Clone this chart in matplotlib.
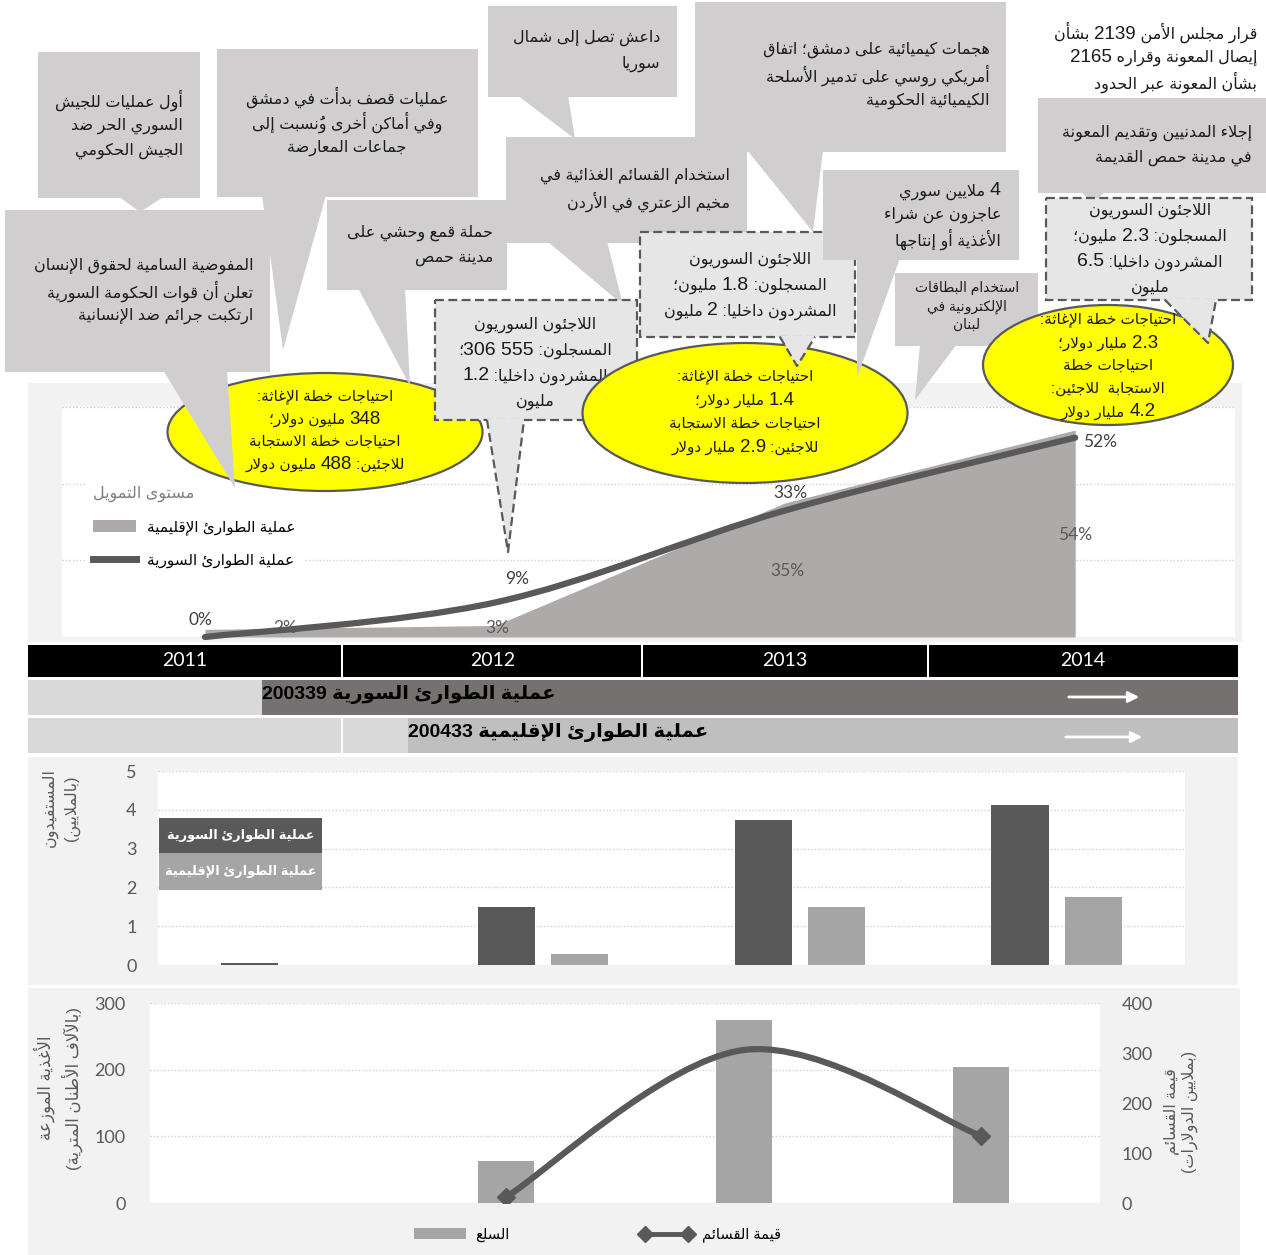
import re
import numpy as np
import matplotlib
matplotlib.use('Agg')
import matplotlib.pyplot as plt
from matplotlib.patches import Rectangle, Polygon, Ellipse, PathPatch, Patch
from matplotlib.path import Path
from matplotlib.lines import Line2D
from matplotlib.offsetbox import TextArea, HPacker, AnnotationBbox

W, H = 1266, 1255
AR_FONT = ['Liberation Sans', 'DejaVu Sans']
NUM_FONT = ['Lato', 'DejaVu Sans']
plt.rcParams['font.family'] = AR_FONT

# ---------------- data ----------------
years = ['2011', '2012', '2013', '2014']
funding_syria_pct = [0, 9, 33, 52]          # line (Syria EMOP)
funding_regional_pct = [2, 3, 35, 54]       # area (regional EMOP)
beneficiaries_syria_m = [0.05, 1.5, 3.73, 4.12]
beneficiaries_regional_m = [0.0, 0.28, 1.5, 1.74]
food_distributed_kmt = [0.5, 63, 275, 204]
voucher_value_musd = [np.nan, 12, 306, 134]

op_syria = 'عملية الطوارئ السورية 200339'
op_regional = 'عملية الطوارئ الإقليمية 200433'
lbl_syria = 'عملية الطوارئ السورية'
lbl_regional = 'عملية الطوارئ الإقليمية'

# ---------------- Arabic shaping / bidi ----------------
_letters = ('\u0621\u0622\u0623\u0624\u0625\u0626\u0627\u0628\u0629\u062A\u062B\u062C\u062D'
            '\u062E\u062F\u0630\u0631\u0632\u0633\u0634\u0635\u0636\u0637\u0638\u0639\u063A'
            '\u0641\u0642\u0643\u0644\u0645\u0646\u0647\u0648\u0649\u064A')
_nforms = [1, 2, 2, 2, 2, 4, 2, 4, 2, 4, 4, 4, 4, 4, 2, 2, 2, 2, 4, 4, 4, 4, 4, 4, 4, 4,
           4, 4, 4, 4, 4, 4, 4, 2, 2, 4]
FORMS = {}
_cp = 0xFE80
for _c, _n in zip(_letters, _nforms):
    FORMS[_c] = tuple(chr(_cp + k) for k in range(_n))
    _cp += _n
LAMALEF = {'\u0622': ('\uFEF5', '\uFEF6'), '\u0623': ('\uFEF7', '\uFEF8'),
           '\u0625': ('\uFEF9', '\uFEFA'), '\u0627': ('\uFEFB', '\uFEFC')}
MIRROR = {'(': ')', ')': '('}
NUM_RE = r'\d+(?:\.\d+)?(?: \d+(?:\.\d+)?)*'


def _is_mark(c):
    return '\u064B' <= c <= '\u0652'


def shape(s):
    ch = list(s)
    n = len(ch)
    out = []

    def prev_l(i):
        j = i - 1
        while j >= 0 and _is_mark(ch[j]):
            j -= 1
        return j

    def next_l(i):
        j = i + 1
        while j < n and _is_mark(ch[j]):
            j += 1
        return j

    i = 0
    while i < n:
        c = ch[i]
        if c in FORMS:
            p = prev_l(i)
            pj = p >= 0 and ch[p] in FORMS and len(FORMS[ch[p]]) == 4
            nx = next_l(i)
            if c == '\u0644' and nx < n and ch[nx] in LAMALEF:
                iso, fin = LAMALEF[ch[nx]]
                out.append(fin if pj else iso)
                i = nx + 1
                continue
            f = FORMS[c]
            nj = len(f) == 4 and nx < n and ch[nx] in FORMS and len(FORMS[ch[nx]]) >= 2
            if pj and nj:
                g = f[3]
            elif pj:
                g = f[1] if len(f) > 1 else f[0]
            elif nj:
                g = f[2]
            else:
                g = f[0]
            out.append(g)
        else:
            out.append(c)
        i += 1
    return ''.join(out)


def vis(line):
    sh = shape(line)
    toks = re.findall(NUM_RE + r'|.[\u064B-\u0652]*', sh)
    res = []
    for t in reversed(toks):
        res.append(t if t[0].isdigit() else MIRROR.get(t, t))
    return ''.join(res)


# ---------------- figure ----------------
fig = plt.figure(figsize=(W / 100, H / 100), dpi=100)
fig.patch.set_facecolor('white')


def overlay(z):
    a = fig.add_axes([0, 0, 1, 1], zorder=z)
    a.set_xlim(0, W)
    a.set_ylim(H, 0)
    a.axis('off')
    return a


def axbox(x0, y0, x1, y1, z=1):
    return fig.add_axes([x0 / W, 1 - y1 / H, (x1 - x0) / W, (y1 - y0) / H], zorder=z)


def rect(ax, x0, y0, x1, y1, z=1, **kw):
    ax.add_patch(Rectangle((x0, y0), x1 - x0, y1 - y0, zorder=z, **kw))


def smooth_path(xs, ys):
    P = np.column_stack([xs, ys]).astype(float)
    n = len(P)
    verts = [P[0]]
    codes = [Path.MOVETO]
    for i in range(n - 1):
        p0 = P[i - 1] if i > 0 else P[i]
        p1, p2 = P[i], P[i + 1]
        p3 = P[i + 2] if i + 2 < n else P[i + 1]
        verts += [p1 + (p2 - p0) / 6.0, p2 - (p3 - p1) / 6.0, p2]
        codes += [Path.CURVE4] * 3
    return Path(verts, codes)


bg = overlay(0)
fg = overlay(10)

GRID = dict(color='#d0d0d0', lw=1.0, ls=(0, (1, 1.5)))
TICKC = '#595959'

# ---------------- top funding chart ----------------
rect(bg, 28, 383, 1242, 642, fc='#f2f2f2', ec='none')
ax1 = axbox(62, 407, 1235, 637)
x = np.arange(len(years))
ax1.fill_between(x, funding_regional_pct, 0, color='#aeaaaa', lw=0, zorder=2)
ax1.add_patch(PathPatch(smooth_path(x, funding_syria_pct), fill=False, ec='#595959',
                        lw=4.5, capstyle='round', zorder=3, clip_on=False))
ax1.set_xlim(-0.493, 3.551)
ax1.set_ylim(0, 60)
ax1.set_yticks([0, 20, 40, 60])
ax1.yaxis.grid(True, **GRID)
ax1.set_axisbelow(True)
ax1.tick_params(left=False, bottom=False, labelleft=False, labelbottom=False)
for s in ax1.spines.values():
    s.set_visible(False)

line_off = [(-5, 17), (22, 23), (5, 17), (25, -4)]
area_off = [(80, 5), (2, 3), (2, -1), (0, -2)]
for i in range(len(years)):
    v = funding_syria_pct[i]
    ax1.annotate(f'{v}%', (x[i], v), xytext=(line_off[i][0] * 0.72, line_off[i][1] * 0.72),
                 textcoords='offset points', ha='center', va='center', fontsize=12.5,
                 color='#404040', family=NUM_FONT, zorder=5, annotation_clip=False)
    a = funding_regional_pct[i]
    ax1.annotate(f'{a}%', (x[i], a / 2), xytext=(area_off[i][0] * 0.72, area_off[i][1] * 0.72),
                 textcoords='offset points', ha='center', va='center', fontsize=12.5,
                 color='#595959', family=NUM_FONT, zorder=5, annotation_clip=False)

leg1 = ax1.legend([Patch(fc='#aeaaaa', ec='none'), Line2D([], [], color='#595959', lw=5)],
                  [vis(lbl_regional), vis(lbl_syria)], title=vis('مستوى التمويل'),
                  loc='upper left', bbox_to_anchor=(78 / W, 1 - 470 / H),
                  bbox_transform=fig.transFigure, frameon=True, fancybox=False,
                  edgecolor='white', facecolor='white', framealpha=1, fontsize=11,
                  title_fontsize=11.5, alignment='left', handlelength=2.8, handleheight=0.8,
                  labelspacing=1.2, borderpad=0.5, handletextpad=0.7)
leg1.get_title().set_color('#7f7f7f')

# ---------------- year / operation bars ----------------
rect(bg, 28, 645, 1238, 677, fc='black', ec='none')
for xs in (342, 642, 928):
    rect(bg, xs - 1, 645, xs + 1, 677, fc='white', ec='none', z=2)
year_x = [185, 493, 785, 1083]
for xx, yy in zip(year_x, years):
    bg.text(xx, 661, yy, ha='center', va='center', color='white', fontsize=14, family=NUM_FONT, zorder=3)

rect(bg, 28, 680, 262, 715, fc='#d9d9d9', ec='none')
rect(bg, 262, 680, 1238, 715, fc='#767171', ec='none')
bg.text(262, 694, vis(op_syria), ha='left', va='center', fontsize=14, fontweight='bold', color='black', zorder=3)
bg.annotate('', xy=(1142, 697), xytext=(1066, 697),
            arrowprops=dict(arrowstyle='-|>', color='white', lw=2, mutation_scale=16))

rect(bg, 28, 718, 408, 753, fc='#d9d9d9', ec='none')
rect(bg, 341, 718, 343, 753, fc='white', ec='none', z=2)
rect(bg, 408, 718, 1238, 753, fc='#bfbfbf', ec='none')
bg.text(408, 732, vis(op_regional), ha='left', va='center', fontsize=14, fontweight='bold', color='black', zorder=3)
bg.annotate('', xy=(1145, 737), xytext=(1063, 737),
            arrowprops=dict(arrowstyle='-|>', color='white', lw=2, mutation_scale=16))

# ---------------- beneficiaries chart ----------------
rect(bg, 28, 757, 1238, 985, fc='#f2f2f2', ec='none')
ax2 = axbox(158, 771, 1185, 965)
bw = 0.223
ax2.bar(x - 0.1426, beneficiaries_syria_m, bw, color='#595959', zorder=2)
ax2.bar(x + 0.1426, beneficiaries_regional_m, bw, color='#a5a5a5', zorder=2)
ax2.set_xlim(-0.5, 3.5)
ax2.set_ylim(0, 5)
ax2.set_yticks(range(6))
ax2.yaxis.grid(True, **GRID)
ax2.set_axisbelow(True)
ax2.tick_params(left=False, bottom=False, labelbottom=False, labelsize=13, labelcolor=TICKC, pad=12)
for t in ax2.get_yticklabels():
    t.set_family(NUM_FONT)
for s in ax2.spines.values():
    s.set_visible(False)

fg.text(61, 808, vis('المستفيدون') + '\n' + vis('(بالملايين)'), rotation=90, ha='center', va='center',
        multialignment='center', fontsize=11.5, color='#595959', linespacing=1.45)
rect(fg, 159, 818, 322, 853, fc='#595959', ec='none')
rect(fg, 159, 853, 322, 890, fc='#a5a5a5', ec='none')
fg.text(241, 836, vis(lbl_syria), ha='center', va='center', color='white', fontsize=9.3, fontweight='bold')
fg.text(241, 872, vis(lbl_regional), ha='center', va='center', color='white', fontsize=9.3, fontweight='bold')

# ---------------- food / voucher chart ----------------
rect(bg, 28, 988, 1240, 1255, fc='#f2f2f2', ec='none')
ax3 = axbox(150, 1003, 1100, 1203)
ax3.bar(x, food_distributed_kmt, 0.236, color='#a5a5a5', zorder=2)
ax3.set_xlim(-0.5, 3.5)
ax3.set_ylim(0, 300)
ax3.set_yticks([0, 100, 200, 300])
ax3.yaxis.grid(True, **GRID)
ax3.set_axisbelow(True)
ax3b = ax3.twinx()
ax3.tick_params(left=False, right=False, bottom=False, labelbottom=False, labelsize=13,
                labelcolor=TICKC, pad=14)
vv = np.array(voucher_value_musd, dtype=float)
ok = ~np.isnan(vv)
ax3b.add_patch(PathPatch(smooth_path(x[ok], vv[ok]), fill=False, ec='#595959', lw=4.5, capstyle='round', zorder=3))
ax3b.plot(x[ok][[0, -1]], vv[ok][[0, -1]], 'D', color='#595959', ms=9, zorder=4)
ax3b.set_ylim(0, 400)
ax3b.set_yticks([0, 100, 200, 300, 400])
ax3b.tick_params(right=False, left=False, labelsize=13, labelcolor=TICKC, pad=12)
for a in (ax3, ax3b):
    for t in a.get_yticklabels():
        t.set_family(NUM_FONT)
    for s in a.spines.values():
        s.set_visible(False)

fg.text(58, 1088, vis('الأغذية الموزعة') + '\n' + vis('(بالآلاف الأطنان المترية)'), rotation=90,
        ha='center', va='center', multialignment='center', fontsize=12, color='#595959', linespacing=1.4)
fg.text(1181, 1112, vis('قيمة القسائم') + '\n' + vis('(بملايين الدولارات)'), rotation=90,
        ha='center', va='center', multialignment='center', fontsize=11.5, color='#595959', linespacing=1.25)

fig.legend([Patch(fc='#a5a5a5', ec='none'),
            Line2D([], [], color='#595959', lw=3.5, marker='D', ms=8)],
           [vis('السلع'), vis('قيمة القسائم')], ncol=2, loc='center',
           bbox_to_anchor=(597 / W, 1 - 1235 / H), frameon=False, fontsize=10.5,
           handlelength=3.6, columnspacing=9, numpoints=2, handletextpad=0.6)

# ---------------- callouts ----------------
GRAY = '#d0cece'
DASHF = '#e7e6e6'
DK = '#595959'
TXT = '#1a1a1a'
zc = [20]


def nz():
    zc[0] += 2
    return zc[0]


def rich_line(xp, y, line, ha, size, numsize, z, color):
    v = vis(line)
    parts = re.findall(NUM_RE + r'|[^\d]+', v)
    bx = {'right': 1.0, 'center': 0.5, 'left': 0.0}[ha]
    if len(parts) == 1 and not parts[0][0].isdigit():
        fg.text(xp, y, v, ha=ha, va='center', fontsize=size, color=color, zorder=z)
        return
    kids = [TextArea(p, textprops=dict(fontsize=(numsize if p[0].isdigit() else size),
                                       color=color, family=AR_FONT)) for p in parts]
    box = HPacker(children=kids, align='baseline', pad=0, sep=0)
    ab = AnnotationBbox(box, (xp, y), xycoords='data', box_alignment=(bx, 0.5),
                        frameon=False, pad=0, zorder=z)
    fg.add_artist(ab)


def lines_text(xp, y0, lines, step, ha='right', size=11.5, numsize=14, z=None, color=TXT):
    z = nz() if z is None else z
    for k, ln in enumerate(lines):
        rich_line(xp, y0 + k * step, ln, ha, size, numsize, z, color)


def gbox(x0, y0, x1, y1, ptr=None):
    z = nz()
    rect(fg, x0, y0, x1, y1, z=z, fc=GRAY, ec='none')
    if ptr is not None:
        fg.add_patch(Polygon(ptr, closed=True, fc=GRAY, ec='none', zorder=z))


def gptr(ptr):
    fg.add_patch(Polygon(ptr, closed=True, fc=GRAY, ec='none', zorder=nz()))


def dbox(x0, y0, x1, y1):
    rect(fg, x0, y0, x1, y1, z=nz(), fc=DASHF, ec=DK, lw=1.6, ls=(0, (4, 2)))


def dptr(a, b, tip):
    z = nz()
    fg.add_patch(Polygon([(a[0], a[1] - 1.5), (b[0], b[1] - 1.5), tip], closed=True, fc=DASHF, ec='none', zorder=z))
    fg.plot([a[0], tip[0], b[0]], [a[1], tip[1], b[1]], color=DK, lw=1.6, ls=(0, (4, 2)), zorder=z + 1)


def ell(cx, cy, w, h):
    fg.add_patch(Ellipse((cx, cy), w, h, fc='#ffff00', ec=DK, lw=1.6, zorder=nz()))


# G
gbox(695, 2, 1006, 152, [(747, 150), (823, 150), (813, 232)])
lines_text(990, 50, ['هجمات كيميائية على دمشق؛ اتفاق', 'أمريكي روسي على تدمير الأسلحة',
                     'الكيميائية الحكومية'], 25.5)
# E
gbox(488, 6, 677, 97, [(517, 95), (568, 95), (575, 139)])
lines_text(660, 38, ['داعش تصل إلى شمال', 'سوريا'], 26)
# F
gbox(506, 137, 747, 243, [(547, 241), (607, 241), (623, 305)])
lines_text(730, 176, ['استخدام القسائم الغذائية في', 'مخيم الزعتري في الأردن'], 26)
# A
gbox(38, 52, 200, 198, [(118, 196), (165, 196), (140, 212)])
lines_text(183, 100, ['أول عمليات للجيش', 'السوري الحر ضد', 'الجيش الحكومي'], 25.5)
# B
gbox(217, 49, 478, 197, [(262, 195), (326, 195), (283, 350)])
lines_text(347, 97, ['عمليات قصف بدأت في دمشق', 'وفي أماكن أخرى ونُسبت إلى', 'جماعات المعارضة'],
           25.5, ha='center')
# C
gbox(5, 210, 270, 372)
lines_text(253, 266, ['المفوضية السامية لحقوق الإنسان', 'تعلن أن قوات الحكومة السورية',
                      'ارتكبت جرائم ضد الإنسانية'], 25)
# D
gbox(327, 200, 507, 290)
lines_text(493, 233, ['حملة قمع وحشي على', 'مدينة حمص'], 25)
# J (plain text) and K
lines_text(1257, 33, ['قرار مجلس الأمن 2139 بشأن', 'إيصال المعونة وقراره 2165',
                      'بشأن المعونة عبر الحدود'], 24.5, numsize=13.5)
gbox(1038, 98, 1266, 193, [(1080, 191), (1106, 191), (1093, 203)])
lines_text(1252, 133, ['إجلاء المدنيين وتقديم المعونة', 'في مدينة حمص القديمة'], 25)

# 2011 ellipse
ell(325, 432, 315, 118)
lines_text(325, 397, ['احتياجات خطة الإغاثة:', '348 مليون دولار؛', 'احتياجات خطة الاستجابة',
                      'للاجئين: 488 مليون دولار'], 22.5, ha='center', size=11, numsize=13.5)
gptr([(163, 370), (227, 370), (235, 488)])
gptr([(358, 288), (405, 288), (410, 386)])

# 2012 dashed box
dbox(435, 300, 637, 420)
lines_text(535, 325, ['اللاجئون السوريون', 'المسجلون: 306 555؛', 'المشردون داخليا: 1.2', 'مليون'],
           25.5, ha='center')
dptr((487, 420), (524, 420), (508, 552))

# 2013 ellipse and box
ell(745, 413, 325, 140)
lines_text(745, 377, ['احتياجات خطة الإغاثة:', '1.4 مليار دولار؛', 'احتياجات خطة الاستجابة',
                      'للاجئين: 2.9 مليار دولار'], 23.5, ha='center', size=11, numsize=13.5)
dbox(640, 232, 855, 337)
lines_text(750, 260, ['اللاجئون السوريون', 'المسجلون: 1.8 مليون؛', 'المشردون داخليا: 2 مليون'],
           25.5, ha='center')
dptr((780, 337), (815, 337), (797, 366))

# H
gbox(823, 170, 1019, 260, [(857, 258), (900, 258), (857, 378)])
lines_text(1001, 191, ['4 ملايين سوري', 'عاجزون عن شراء', 'الأغذية أو إنتاجها'], 24)
# I
gbox(895, 273, 1038, 346, [(920, 344), (957, 344), (915, 400)])
lines_text(967, 288, ['استخدام البطاقات', 'الإلكترونية في', 'لبنان'], 18.5, ha='center', size=10)

# 2014
dbox(1046, 198, 1252, 300)
lines_text(1150, 211, ['اللاجئون السوريون', 'المسجلون: 2.3 مليون؛', 'المشردون داخليا: 6.5', 'مليون'],
           25.5, ha='center')
ell(1108, 365, 250, 120)
lines_text(1108, 320, ['احتياجات خطة الإغاثة:', '2.3 مليار دولار؛', 'احتياجات خطة',
                       'الاستجابة  للاجئين:', '4.2 مليار دولار'], 23, ha='center', size=11, numsize=13.5)
dptr((1165, 300), (1216, 300), (1208, 343))

fig.savefig('out.png', dpi=100)
